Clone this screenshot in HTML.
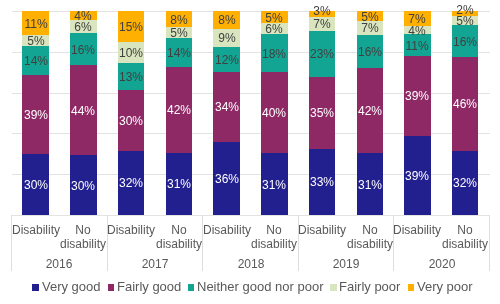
<!DOCTYPE html>
<html><head><meta charset="utf-8"><style>
html,body{margin:0;padding:0;background:#fff;}
body{width:500px;height:304px;position:relative;overflow:hidden;font-family:"Liberation Sans",sans-serif;}
.gl{position:absolute;left:12px;width:477.5px;height:1px;background:#e3e3e3;}
.s{position:absolute;}
.lb{position:absolute;width:40px;text-align:center;font-size:12px;line-height:14px;white-space:nowrap;}
.lw{color:#fff;}
.ld{color:#404040;}
.sep{position:absolute;top:215px;width:1px;height:56px;background:#dedede;}
.cl{position:absolute;width:60px;text-align:center;font-size:12px;line-height:14px;color:#595959;}
.yl{position:absolute;width:60px;text-align:center;font-size:12px;line-height:14px;color:#595959;}
.sq{position:absolute;top:283.9px;width:6.6px;height:6.7px;}
.lt{position:absolute;top:279px;font-size:13px;line-height:15px;color:#595959;white-space:nowrap;}
.lb,.cl,.yl,.lt{will-change:transform;}
</style></head><body>
<div class="gl" style="top:11px"></div><div class="gl" style="top:52px"></div><div class="gl" style="top:93px"></div><div class="gl" style="top:133px"></div><div class="gl" style="top:174px"></div><div class="gl" style="top:215px"></div><div class="s" style="left:22.40px;top:11.00px;width:26.5px;height:24.00px;background:#ffb000"></div><div class="s" style="left:22.40px;top:35.00px;width:26.5px;height:10.50px;background:#d9e5be"></div><div class="s" style="left:22.40px;top:45.50px;width:26.5px;height:29.00px;background:#13a593"></div><div class="s" style="left:22.40px;top:74.50px;width:26.5px;height:79.00px;background:#8e2966"></div><div class="s" style="left:22.40px;top:153.50px;width:26.5px;height:61.50px;background:#221f8e"></div><div class="lb ld" style="left:15.65px;top:16.60px">11%</div><div class="lb ld" style="left:15.65px;top:33.85px">5%</div><div class="lb ld" style="left:15.65px;top:53.60px">14%</div><div class="lb lw" style="left:15.65px;top:107.60px">39%</div><div class="lb lw" style="left:15.65px;top:177.85px">30%</div><div class="s" style="left:70.13px;top:11.00px;width:26.5px;height:9.00px;background:#ffb000"></div><div class="s" style="left:70.13px;top:20.00px;width:26.5px;height:13.00px;background:#d9e5be"></div><div class="s" style="left:70.13px;top:33.00px;width:26.5px;height:32.00px;background:#13a593"></div><div class="s" style="left:70.13px;top:65.00px;width:26.5px;height:90.00px;background:#8e2966"></div><div class="s" style="left:70.13px;top:155.00px;width:26.5px;height:60.00px;background:#221f8e"></div><div class="lb ld" style="left:63.38px;top:9.10px">4%</div><div class="lb ld" style="left:63.38px;top:20.10px">6%</div><div class="lb ld" style="left:63.38px;top:42.60px">16%</div><div class="lb lw" style="left:63.38px;top:103.60px">44%</div><div class="lb lw" style="left:63.38px;top:178.60px">30%</div><div class="s" style="left:117.86px;top:11.00px;width:26.5px;height:31.00px;background:#ffb000"></div><div class="s" style="left:117.86px;top:42.00px;width:26.5px;height:21.00px;background:#d9e5be"></div><div class="s" style="left:117.86px;top:63.00px;width:26.5px;height:27.00px;background:#13a593"></div><div class="s" style="left:117.86px;top:90.00px;width:26.5px;height:60.50px;background:#8e2966"></div><div class="s" style="left:117.86px;top:150.50px;width:26.5px;height:64.50px;background:#221f8e"></div><div class="lb ld" style="left:111.11px;top:20.10px">15%</div><div class="lb ld" style="left:111.11px;top:46.10px">10%</div><div class="lb ld" style="left:111.11px;top:70.10px">13%</div><div class="lb lw" style="left:111.11px;top:113.85px">30%</div><div class="lb lw" style="left:111.11px;top:176.35px">32%</div><div class="s" style="left:165.59px;top:11.00px;width:26.5px;height:16.00px;background:#ffb000"></div><div class="s" style="left:165.59px;top:27.00px;width:26.5px;height:10.50px;background:#d9e5be"></div><div class="s" style="left:165.59px;top:37.50px;width:26.5px;height:29.00px;background:#13a593"></div><div class="s" style="left:165.59px;top:66.50px;width:26.5px;height:86.00px;background:#8e2966"></div><div class="s" style="left:165.59px;top:152.50px;width:26.5px;height:62.50px;background:#221f8e"></div><div class="lb ld" style="left:158.84px;top:12.60px">8%</div><div class="lb ld" style="left:158.84px;top:25.85px">5%</div><div class="lb ld" style="left:158.84px;top:45.60px">14%</div><div class="lb lw" style="left:158.84px;top:103.10px">42%</div><div class="lb lw" style="left:158.84px;top:177.35px">31%</div><div class="s" style="left:213.32px;top:11.00px;width:26.5px;height:17.75px;background:#ffb000"></div><div class="s" style="left:213.32px;top:28.75px;width:26.5px;height:18.25px;background:#d9e5be"></div><div class="s" style="left:213.32px;top:47.00px;width:26.5px;height:25.00px;background:#13a593"></div><div class="s" style="left:213.32px;top:72.00px;width:26.5px;height:69.75px;background:#8e2966"></div><div class="s" style="left:213.32px;top:141.75px;width:26.5px;height:73.25px;background:#221f8e"></div><div class="lb ld" style="left:206.57px;top:13.47px">8%</div><div class="lb ld" style="left:206.57px;top:31.48px">9%</div><div class="lb ld" style="left:206.57px;top:53.10px">12%</div><div class="lb lw" style="left:206.57px;top:100.47px">34%</div><div class="lb lw" style="left:206.57px;top:171.97px">36%</div><div class="s" style="left:261.05px;top:11.00px;width:26.5px;height:12.00px;background:#ffb000"></div><div class="s" style="left:261.05px;top:23.00px;width:26.5px;height:11.25px;background:#d9e5be"></div><div class="s" style="left:261.05px;top:34.25px;width:26.5px;height:37.75px;background:#13a593"></div><div class="s" style="left:261.05px;top:72.00px;width:26.5px;height:81.25px;background:#8e2966"></div><div class="s" style="left:261.05px;top:153.25px;width:26.5px;height:61.75px;background:#221f8e"></div><div class="lb ld" style="left:254.30px;top:10.60px">5%</div><div class="lb ld" style="left:254.30px;top:22.23px">6%</div><div class="lb ld" style="left:254.30px;top:46.73px">18%</div><div class="lb lw" style="left:254.30px;top:106.22px">40%</div><div class="lb lw" style="left:254.30px;top:177.72px">31%</div><div class="s" style="left:308.78px;top:11.00px;width:26.5px;height:6.00px;background:#ffb000"></div><div class="s" style="left:308.78px;top:17.00px;width:26.5px;height:13.75px;background:#d9e5be"></div><div class="s" style="left:308.78px;top:30.75px;width:26.5px;height:46.00px;background:#13a593"></div><div class="s" style="left:308.78px;top:76.75px;width:26.5px;height:72.00px;background:#8e2966"></div><div class="s" style="left:308.78px;top:148.75px;width:26.5px;height:66.25px;background:#221f8e"></div><div class="lb ld" style="left:302.03px;top:3.90px">3%</div><div class="lb ld" style="left:302.03px;top:17.48px">7%</div><div class="lb ld" style="left:302.03px;top:47.35px">23%</div><div class="lb lw" style="left:302.03px;top:106.35px">35%</div><div class="lb lw" style="left:302.03px;top:175.47px">33%</div><div class="s" style="left:356.51px;top:11.00px;width:26.5px;height:10.25px;background:#ffb000"></div><div class="s" style="left:356.51px;top:21.25px;width:26.5px;height:13.25px;background:#d9e5be"></div><div class="s" style="left:356.51px;top:34.50px;width:26.5px;height:33.00px;background:#13a593"></div><div class="s" style="left:356.51px;top:67.50px;width:26.5px;height:85.50px;background:#8e2966"></div><div class="s" style="left:356.51px;top:153.00px;width:26.5px;height:62.00px;background:#221f8e"></div><div class="lb ld" style="left:349.76px;top:9.72px">5%</div><div class="lb ld" style="left:349.76px;top:21.48px">7%</div><div class="lb ld" style="left:349.76px;top:44.60px">16%</div><div class="lb lw" style="left:349.76px;top:103.85px">42%</div><div class="lb lw" style="left:349.76px;top:177.60px">31%</div><div class="s" style="left:404.24px;top:11.00px;width:26.5px;height:14.75px;background:#ffb000"></div><div class="s" style="left:404.24px;top:25.75px;width:26.5px;height:8.50px;background:#d9e5be"></div><div class="s" style="left:404.24px;top:34.25px;width:26.5px;height:21.50px;background:#13a593"></div><div class="s" style="left:404.24px;top:55.75px;width:26.5px;height:79.75px;background:#8e2966"></div><div class="s" style="left:404.24px;top:135.50px;width:26.5px;height:79.50px;background:#221f8e"></div><div class="lb ld" style="left:397.49px;top:11.97px">7%</div><div class="lb ld" style="left:397.49px;top:23.60px">4%</div><div class="lb ld" style="left:397.49px;top:38.60px">11%</div><div class="lb lw" style="left:397.49px;top:89.22px">39%</div><div class="lb lw" style="left:397.49px;top:168.85px">39%</div><div class="s" style="left:451.97px;top:11.00px;width:26.5px;height:4.75px;background:#ffb000"></div><div class="s" style="left:451.97px;top:15.75px;width:26.5px;height:9.50px;background:#d9e5be"></div><div class="s" style="left:451.97px;top:25.25px;width:26.5px;height:31.75px;background:#13a593"></div><div class="s" style="left:451.97px;top:57.00px;width:26.5px;height:93.75px;background:#8e2966"></div><div class="s" style="left:451.97px;top:150.75px;width:26.5px;height:64.25px;background:#221f8e"></div><div class="lb ld" style="left:445.22px;top:2.78px">2%</div><div class="lb ld" style="left:445.22px;top:14.10px">5%</div><div class="lb ld" style="left:445.22px;top:34.73px">16%</div><div class="lb lw" style="left:445.22px;top:97.47px">46%</div><div class="lb lw" style="left:445.22px;top:176.47px">32%</div><div class="sep" style="left:11.00px"></div><div class="sep" style="left:106.60px"></div><div class="sep" style="left:202.20px"></div><div class="sep" style="left:297.80px"></div><div class="sep" style="left:393.40px"></div><div class="sep" style="left:489.00px"></div><div class="cl" style="left:5.65px;top:222.8px">Disability</div><div class="cl" style="left:53.38px;top:222.8px">No<br>disability</div><div class="cl" style="left:101.11px;top:222.8px">Disability</div><div class="cl" style="left:148.84px;top:222.8px">No<br>disability</div><div class="cl" style="left:196.57px;top:222.8px">Disability</div><div class="cl" style="left:244.30px;top:222.8px">No<br>disability</div><div class="cl" style="left:292.03px;top:222.8px">Disability</div><div class="cl" style="left:339.76px;top:222.8px">No<br>disability</div><div class="cl" style="left:387.49px;top:222.8px">Disability</div><div class="cl" style="left:435.22px;top:222.8px">No<br>disability</div><div class="yl" style="left:29.30px;top:257.3px">2016</div><div class="yl" style="left:124.90px;top:257.3px">2017</div><div class="yl" style="left:220.50px;top:257.3px">2018</div><div class="yl" style="left:316.10px;top:257.3px">2019</div><div class="yl" style="left:411.70px;top:257.3px">2020</div>
<i class="sq" style="left:32.2px;background:#221f8e"></i><span class="lt" style="left:41.9px">Very good</span><i class="sq" style="left:107.6px;background:#8e2966"></i><span class="lt" style="left:117px">Fairly good</span><i class="sq" style="left:187.9px;background:#13a593"></i><span class="lt" style="left:197px">Neither good nor poor</span><i class="sq" style="left:330.1px;background:#d9e5be"></i><span class="lt" style="left:339.2px">Fairly poor</span><i class="sq" style="left:407.5px;background:#ffb000"></i><span class="lt" style="left:416.6px">Very poor</span>
</body></html>
